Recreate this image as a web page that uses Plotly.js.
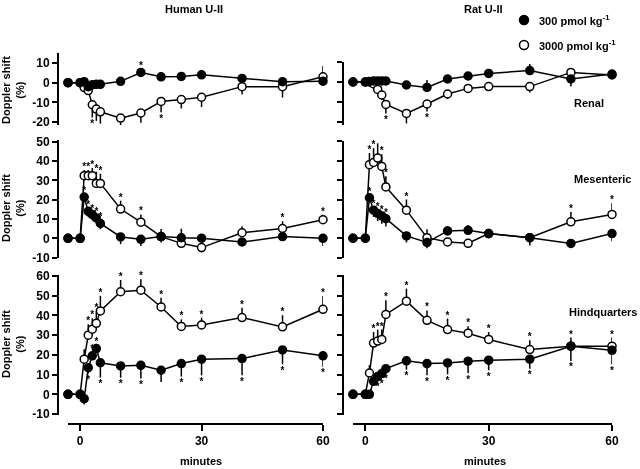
<!DOCTYPE html>
<html><head><meta charset="utf-8">
<script src="https://cdn.plot.ly/plotly-3.0.1.min.js"></script>
<style>html,body{margin:0;padding:0;background:#fff}#c{width:640px;height:469px;filter:grayscale(100%)}</style>
</head><body><div id="c"></div>
<script>
// time points (minutes)
var times = [-3,0,1,2,3,4,5,10,15,20,25,30,40,50,60];

// Human U-II — Renal
var hRenal300  = [0,0,0.5,-2,-1,-0.8,-0.8,0.7,5.2,3,3.2,4,2.2,0.5,0.8];
var hRenal300E = [0,0,-1,-1,-1,-1,-1,1,2,1,1,2,1.3,1.2,0.8];
var hRenal300S = [0,0,0,0,0,0,0,0,1,0,0,0,0,0,0];
var hRenal3000  = [0,0,-2.5,-4,-11.2,-13.4,-14.8,-18,-15.4,-9.5,-8.6,-7.4,-2,-2,3];
var hRenal3000E = [0,0,-1.5,-2,-6.5,-6,-6,-4,-5,-5.5,-4.5,-5,-4,-5.5,5.5];
var hRenal3000S = [0,0,0,0,-1,-1,-1,-1,-1,-1,0,0,0,0,0];

// Human U-II — Mesenteric
var hMes300  = [0,0,21.4,14,12.3,10.6,7.7,0.7,-0.5,0.9,0.3,0.1,-1.9,0.9,0];
var hMes300E = [0,0,1.5,-3,-3,-3,-3,-3.7,-3.5,-3,4.7,-1,-1.5,1,-4];
var hMes300S = [0,0,1,1,1,1,1,0,0,0,0,0,0,0,0];
var hMes3000  = [0,0,32.5,32.5,32.5,28.5,28.5,15.2,8.4,0.9,-2.6,-4.8,2.9,5.1,9.7];
var hMes3000E = [0,0,3,3,4,6,5,4.3,4,4,-2,-2.5,3.4,3.8,2.6];
var hMes3000S = [0,0,1,1,1,1,1,1,1,0,0,0,0,1,1];

// Human U-II — Hindquarters
var hHq300  = [0,0,-2.2,13.5,19.5,23.2,16,14.4,14.7,12.2,15.6,17.8,18.1,22.5,19.5];
var hHq300E = [0,0,-3,-3,2,2,-7.5,-6,-6.7,-6,-6.6,-8.2,-8.5,-7.3,-5.5];
var hHq300S = [0,0,0,-1,1,1,-1,-1,-1,0,-1,-1,-1,-1,-1];
var hHq3000  = [0,0,17.8,30,33,36,42.3,52,52.8,44.3,34.4,35.2,38.9,34.2,43.1];
var hHq3000E = [0,0,5,5.5,5.5,6,7.6,6,5.6,4.7,3.6,3.7,5,5.9,6.8];
var hHq3000S = [0,0,0,1,1,1,1,1,1,1,1,1,1,1,1];

// Rat U-II — Renal
var rRenal300  = [0,0,0.3,0.5,0.5,0.5,0.5,-1.5,-2.7,1.5,3,4.3,5.7,1.5,4];
var rRenal300E = [0,0,1,1,1.5,1,1,2,3.7,1,1.5,1.5,3.3,-3.8,-2.5];
var rRenal300S = [0,0,0,0,0,0,0,0,0,0,0,0,0,0,0];
var rRenal3000  = [0,0,0,-1,-3.7,-6.5,-11.2,-15.7,-11,-6,-3.2,-2.3,-2.3,4.8,3.5];
var rRenal3000E = [0,0,0,-1,-1.5,-2.5,-4.5,-5,-3.8,-2.5,-2,-2,-3,-1,-1];
var rRenal3000S = [0,0,0,0,0,0,-1,-1,-1,0,0,0,0,0,0];

// Rat U-II — Mesenteric
var rMes300  = [0,0,20.9,14.5,12.8,11.5,10.1,1.2,-2.2,3.8,4.1,2.4,0.3,-2.7,2.4];
var rMes300E = [0,0,1.5,-3.5,-4,-4,-4,-3.4,-3,2.5,2.7,2,-4,-1,-4];
var rMes300S = [0,0,1,1,1,1,1,0,0,0,0,0,0,0,0];
var rMes3000  = [0,0,38,39.1,41.4,37.1,26.5,14.5,0.3,-1.9,-2.6,2.4,0.3,8.5,12.3];
var rMes3000E = [0,0,6,7.4,7.6,6.3,5.5,5.5,4.3,-2,-2,2,-1,5,5.7];
var rMes3000S = [0,0,1,1,1,1,1,1,0,0,0,0,0,1,1];

// Rat U-II — Hindquarters
var rHq300  = [0,0,0,6.6,9,10.5,13,17,15.6,15.9,16.8,17.3,17.8,24.4,22.3];
var rHq300E = [0,0,0,-1.5,-2,-2,-2,-4.5,-6,-5.8,-6,-5.1,-4.8,-7.5,-7];
var rHq300S = [0,0,0,0,-1,-1,-1,-1,-1,-1,-1,-1,-1,-1,-1];
var rHq3000  = [0,0,10.8,26,27,27.8,40.5,47.2,37.5,32.8,31,27.8,22.7,24.4,24.4];
var rHq3000E = [0,0,4,5.6,5.8,5,7.2,6.4,5,5.6,3.5,3.8,4.7,4.4,4.4];
var rHq3000S = [0,0,0,1,1,1,1,1,1,1,1,1,1,1,1];

// tick labels
var renalTicks = [-20,-10,0,10];
var mesTicks = [-10,0,10,20,30,40,50];
var hqTicks = [-10,0,10,20,30,40,50,60];
var timeTicks = [0,30,60];

var legendLabels = ['300 pmol kg<sup>-1</sup>','3000 pmol kg<sup>-1</sup>'];
var columnTitles = ['Human U-II','Rat U-II'];
var bedLabels = ['Renal','Mesenteric','Hindquarters'];

var FONT = 'Liberation Sans, Arial, sans-serif';

// pixel helpers for layout (plot area: x 0..640, y 40..424)
function px(p){return p/640;}
function py(p){return (424-p)/384;}

function yax(dom, rng, ticks, pos, labels){
  return {domain:dom, range:rng, anchor:'free', position:pos,
    showline:true, linewidth:2, linecolor:'black', ticks:'outside', ticklen:5, tickwidth:2, tickcolor:'black',
    tickvals:ticks, ticktext:ticks.map(String), showticklabels:labels,
    tickfont:{family:FONT, size:12, color:'black', weight:'bold'},
    showgrid:false, zeroline:false, fixedrange:true};
}
function xax(dom){
  return {domain:dom, range:[-3,60], anchor:'free', position:0,
    showline:true, linewidth:2, linecolor:'black', ticks:'outside', ticklen:6, tickwidth:2, tickcolor:'black',
    tickvals:timeTicks, ticktext:timeTicks.map(String),
    tickfont:{family:FONT, size:12, color:'black', weight:'bold'},
    showgrid:false, zeroline:false, fixedrange:true};
}

var yaxes = {
  y:  yax([py(125), py(53)], [-21.5, 15.1], renalTicks, px(58), true),
  y2: yax([py(258), py(140)], [-10.2, 51], mesTicks, px(58), true),
  y3: yax([py(415), py(275)], [-10.5, 60.5], hqTicks, px(58), true),
  y4: yax([py(125), py(62)], [-21.5, 10], renalTicks, px(343), false),
  y5: yax([py(258), py(141)], [-10.2, 50.2], mesTicks, px(343), false),
  y6: yax([py(415), py(275)], [-10.5, 60.5], hqTicks, px(343), false)
};
function unitsPerPx(ya){
  var a = yaxes[ya];
  return (a.range[1]-a.range[0]) / ((a.domain[1]-a.domain[0])*384);
}

function series(xa, ya, vals, err, sig, filled){
  var plus = err.map(function(e){return e>0?e:0;});
  var minus = err.map(function(e){return e<0?-e:0;});
  var tr = {
    x: times, y: vals, xaxis: xa, yaxis: ya, type:'scatter', mode:'lines+markers',
    line:{color:'black', width:1.5},
    marker:{size:8, symbol:'circle', color: filled?'black':'white', line:{color:'black', width:1.5}},
    error_y:{type:'data', symmetric:false, array:plus, arrayminus:minus, width:0, thickness:1.5, color:'black'},
    showlegend:false, cliponaxis:false, hoverinfo:'skip'
  };
  var u = unitsPerPx(ya);
  var ax=[], ay=[];
  for(var i=0;i<vals.length;i++){
    if(sig[i]===0) continue;
    var end = vals[i]+err[i];
    ax.push(times[i]);
    if(sig[i]>0){
      var top = Math.max(vals[i], end);
      var gap = (end>=vals[i] && err[i]!==0) ? 2.5 : 5.5;
      ay.push(top + gap*u);
    } else {
      var bot = Math.min(vals[i], end);
      var gap2 = (end<=vals[i] && err[i]!==0) ? 7 : 10;
      ay.push(bot - gap2*u);
    }
  }
  var st = {
    x: ax, y: ay, xaxis: xa, yaxis: ya, type:'scatter', mode:'text',
    text: ax.map(function(){return '*';}), textposition:'middle center',
    textfont:{family:FONT, size:10, color:'#000000', weight:'bold'},
    showlegend:false, cliponaxis:false, hoverinfo:'skip'
  };
  return ax.length ? [tr, st] : [tr];
}

var data = [];
[
 ['x','y', hRenal3000,hRenal3000E,hRenal3000S,false],
 ['x','y', hRenal300,hRenal300E,hRenal300S,true],
 ['x','y2',hMes3000,hMes3000E,hMes3000S,false],
 ['x','y2',hMes300,hMes300E,hMes300S,true],
 ['x','y3',hHq3000,hHq3000E,hHq3000S,false],
 ['x','y3',hHq300,hHq300E,hHq300S,true],
 ['x2','y4',rRenal3000,rRenal3000E,rRenal3000S,false],
 ['x2','y4',rRenal300,rRenal300E,rRenal300S,true],
 ['x2','y5',rMes3000,rMes3000E,rMes3000S,false],
 ['x2','y5',rMes300,rMes300E,rMes300S,true],
 ['x2','y6',rHq3000,rHq3000E,rHq3000S,false],
 ['x2','y6',rHq300,rHq300E,rHq300S,true]
].forEach(function(s){ data = data.concat(series(s[0],s[1],s[2],s[3],s[4],s[5])); });

var ann = [];
function txt(t, x, y, opts){
  var a = {text:t, x:px(x), y:py(y), xref:'paper', yref:'paper', showarrow:false,
    font:{family:FONT, size:11, color:'black', weight:'bold'}, xanchor:'center', yanchor:'middle'};
  for(var k in opts) a[k]=opts[k];
  ann.push(a);
}
txt(columnTitles[0], 194, 9);
txt(columnTitles[1], 483, 9);
txt(bedLabels[0], 572, 103, {xanchor:'left'});
txt(bedLabels[1], 572, 179, {xanchor:'left'});
txt(bedLabels[2], 639, 312, {xanchor:'right'});
txt('minutes', 201, 461);
txt('minutes', 485, 461);
[90,208,344].forEach(function(cy){ txt('Doppler shift<br>(%)', 13, cy, {textangle:-90}); });
txt(legendLabels[0], 537, 20, {xanchor:'left'});
txt(legendLabels[1], 537, 45, {xanchor:'left'});

var shapes = [
  {type:'circle', xref:'paper', yref:'paper', xsizemode:'pixel', ysizemode:'pixel', xanchor:px(524), yanchor:py(20),
   x0:-4.5, x1:4.5, y0:-4.5, y1:4.5, fillcolor:'black', line:{color:'black', width:1.5}},
  {type:'circle', xref:'paper', yref:'paper', xsizemode:'pixel', ysizemode:'pixel', xanchor:px(524), yanchor:py(45),
   x0:-4.5, x1:4.5, y0:-4.5, y1:4.5, fillcolor:'white', line:{color:'black', width:1.5}}
];

var layout = {
  width:640, height:469, margin:{l:0, r:0, t:40, b:45}, paper_bgcolor:'white', plot_bgcolor:'rgba(0,0,0,0)',
  showlegend:false,
  xaxis: xax([px(68), px(323)]),
  xaxis2: xax([px(353), px(612)]),
  yaxis: yaxes.y, yaxis2: yaxes.y2, yaxis3: yaxes.y3,
  yaxis4: yaxes.y4, yaxis5: yaxes.y5, yaxis6: yaxes.y6,
  annotations: ann, shapes: shapes
};

Plotly.newPlot('c', data, layout, {staticPlot:true, displayModeBar:false});
</script></body></html>
